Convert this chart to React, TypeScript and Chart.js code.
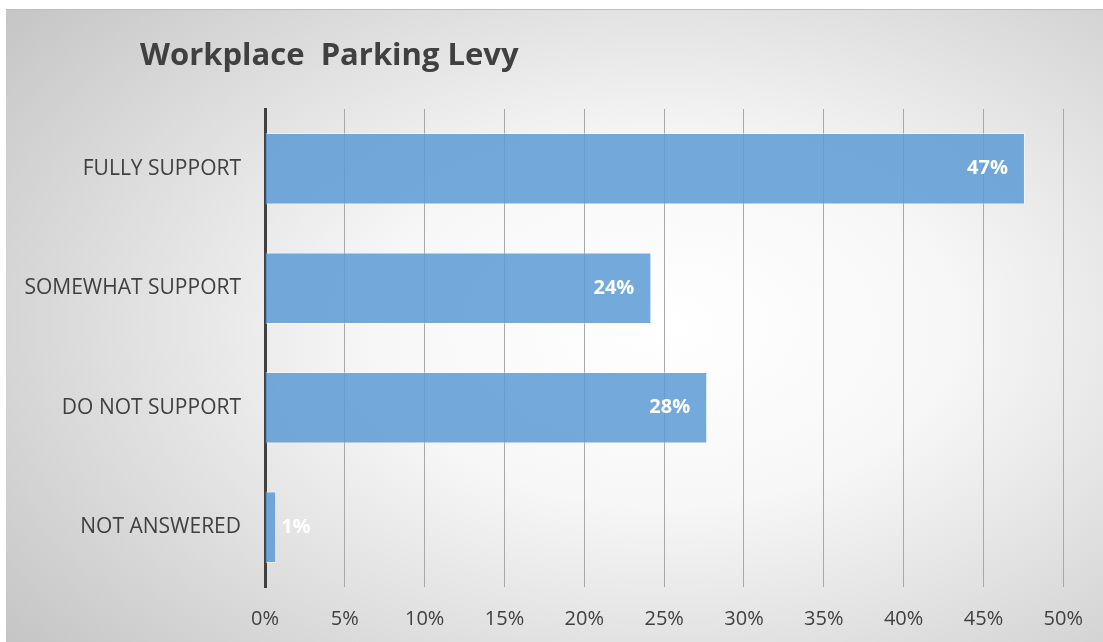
import React, { useEffect, useRef } from "react";
import { Chart, registerables } from "chart.js";

Chart.register(...registerables);

const TITLE = "Workplace  Parking Levy";
const categories = ["FULLY SUPPORT", "SOMEWHAT SUPPORT", "DO NOT SUPPORT", "NOT ANSWERED"];
const values = [47.6, 24.2, 27.7, 0.7];
const valueLabels = ["47%", "24%", "28%", "1%"];
const xTicks = [0, 5, 10, 15, 20, 25, 30, 35, 40, 45, 50];

const FONT = "'Open Sans', 'Liberation Sans', sans-serif";

const titlePlugin = {
  id: "customTitle",
  afterDraw(chart: any) {
    const ctx = chart.ctx;
    ctx.save();
    ctx.font = `bold 31px ${FONT}`;
    ctx.fillStyle = "#404040";
    ctx.textAlign = "left";
    ctx.textBaseline = "middle";
    ctx.fillText(TITLE, 134, 46);
    ctx.restore();
  },
};

const labelPlugin = {
  id: "barLabels",
  afterDatasetsDraw(chart: any) {
    const ctx = chart.ctx;
    const meta = chart.getDatasetMeta(0);
    ctx.save();
    ctx.font = `bold 20px ${FONT}`;
    ctx.fillStyle = "#ffffff";
    ctx.textBaseline = "middle";
    meta.data.forEach((bar: any, i: number) => {
      const text = valueLabels[i];
      const w = ctx.measureText(text).width;
      const len = bar.x - bar.base;
      if (len > w + 24) {
        ctx.textAlign = "right";
        ctx.fillText(text, bar.x - 17, bar.y);
      } else {
        ctx.textAlign = "left";
        ctx.fillText(text, bar.x + 5, bar.y);
      }
    });
    ctx.restore();
  },
};

export default function App() {
  const ref = useRef<HTMLCanvasElement>(null);

  useEffect(() => {
    if (!ref.current) return;
    const chart = new Chart(ref.current, {
      type: "bar",
      data: {
        labels: categories,
        datasets: [
          {
            data: values,
            backgroundColor: "rgba(91,155,213,0.85)",
            borderColor: "rgba(255,255,255,0.45)",
            borderWidth: 1,
            barPercentage: 0.6,
            categoryPercentage: 1,
          },
        ],
      },
      options: {
        indexAxis: "y",
        animation: false,
        responsive: false,
        maintainAspectRatio: false,
        layout: { padding: { top: 99, right: 39, bottom: 0, left: 0 } },
        plugins: {
          legend: { display: false },
          title: { display: false },
          tooltip: { enabled: false },
        },
        scales: {
          x: {
            type: "linear",
            min: 0,
            max: 50,
            afterBuildTicks: (scale: any) => {
              scale.ticks = xTicks.map((v) => ({ value: v }));
            },
            afterFit: (scale: any) => {
              scale.height = 55;
            },
            ticks: {
              callback: (v: any) => v + "%",
              color: "#404040",
              font: { family: FONT, size: 20 },
              padding: 20,
              maxRotation: 0,
            },
            grid: {
              color: (c: any) => (c.tick && c.tick.value === 0 ? "rgba(0,0,0,0)" : "#a8a8a8"),
              lineWidth: 1,
              drawTicks: false,
            },
            border: { display: false },
          },
          y: {
            afterFit: (scale: any) => {
              scale.width = 259;
            },
            ticks: {
              color: "#404040",
              font: { family: FONT, size: 21 },
              padding: 24,
            },
            grid: { display: false, drawTicks: false },
            border: { display: true, color: "#404040", width: 3 },
          },
        },
      },
      plugins: [titlePlugin, labelPlugin],
    });
    return () => chart.destroy();
  }, []);

  return (
    <div
      style={{
        position: "absolute",
        left: 6,
        top: 9,
        width: 1097,
        height: 633,
        background:
          "radial-gradient(ellipse 75% 80% at 60% 50%, #ffffff 0%, #f7f7f7 35%, #c6c6c6 100%)",
        borderTop: "1px solid #bdbdbd",
        boxSizing: "border-box",
      }}
    >
      <canvas ref={ref} width={1097} height={632} style={{ display: "block" }} />
    </div>
  );
}
